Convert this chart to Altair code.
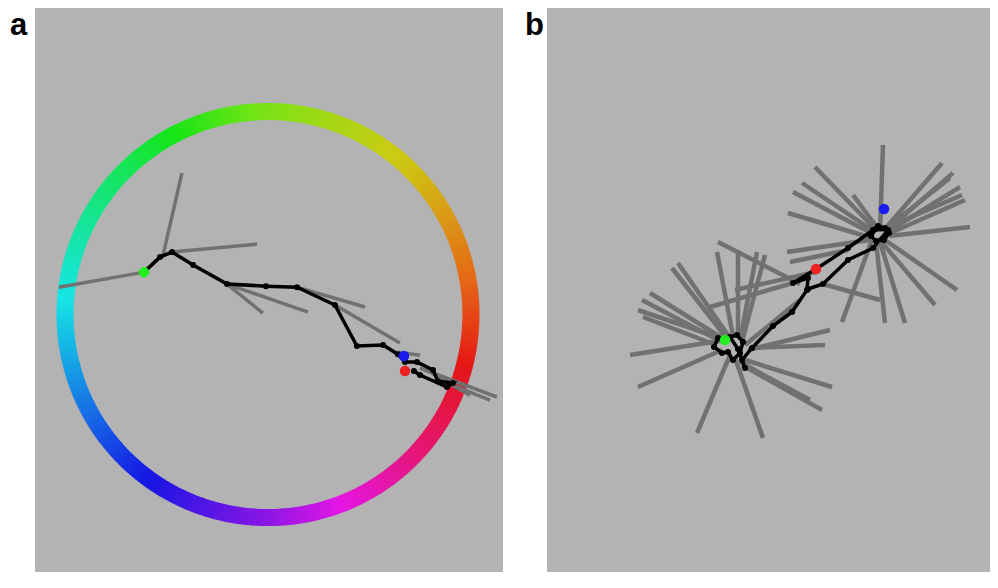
import colorsys
import math
import altair as alt
import pandas as pd

# ---------------- Panel a (units: ring radius = 1) ----------------
a_traj_x = [-0.611, -0.532, -0.473, -0.369, -0.202, -0.010, 0.143, 0.330, 0.438, 0.567,
            0.640, 0.675, 0.734, 0.813, 0.837, 0.911, 0.882, 0.749, 0.719]
a_traj_y = [0.209, 0.283, 0.308, 0.244, 0.150, 0.140, 0.135, 0.047, -0.155, -0.150,
            -0.195, -0.234, -0.234, -0.273, -0.328, -0.337, -0.357, -0.298, -0.278]

a_ray_x0 = [-0.611, -0.517, -0.473, -0.202, -0.202, 0.143, 0.330, 0.640, 0.749, 0.798, 0.773, 0.847]
a_ray_y0 = [0.209, 0.293, 0.308, 0.150, 0.150, 0.135, 0.047, -0.185, -0.264, -0.283, -0.273, -0.323]
a_ray_x1 = [-1.030, -0.424, -0.054, -0.025, 0.197, 0.478, 0.650, 0.749, 1.128, 0.995, 0.980, 1.094]
a_ray_y1 = [0.135, 0.697, 0.347, 0.007, 0.012, 0.037, -0.140, -0.200, -0.406, -0.397, -0.352, -0.421]

a_dot_x = [-0.611, 0.670, 0.675]
a_dot_y = [0.209, -0.204, -0.278]
dot_colors = ["#22ee22", "#1a1aee", "#ee2020"]

# ---------------- Panel b ----------------
b_traj_x = [1.78, 1.71, 1.67, 1.75, 1.81, 1.86, 1.93, 1.96, 1.90, 1.83, 1.91, 1.98, 1.95, 2.05,
            2.26, 2.45, 2.60, 2.61, 2.46, 2.69, 3.01, 3.26, 3.31, 3.38, 3.42, 3.37, 3.29, 3.24,
            3.29, 3.41, 3.26, 3.01, 2.76, 2.61]
b_traj_y = [2.41, 2.42, 2.33, 2.27, 2.28, 2.20, 2.27, 2.38, 2.45, 2.43, 2.31, 2.12, 2.20, 2.32,
            2.54, 2.68, 2.90, 3.02, 2.97, 3.11, 3.32, 3.50, 3.54, 3.52, 3.47, 3.40, 3.39, 3.44,
            3.51, 3.50, 3.32, 3.20, 2.96, 2.91]

b_ray_x0 = [1.78, 1.75, 1.83, 1.88, 1.98, 1.95, 1.93, 1.73, 1.71, 1.75, 1.69, 1.81, 1.83, 1.86,
            1.91, 1.93, 1.95, 2.01, 2.03, 1.98,
            3.33, 3.37, 3.39, 3.40, 3.41, 3.42, 3.38, 3.33, 3.29, 3.25, 3.27, 3.25, 3.26, 3.25,
            3.23, 3.29, 3.39, 3.38, 3.31,
            2.53, 2.46, 2.69, 3.01, 2.76]
b_ray_y0 = [2.40, 2.30, 2.25, 2.22, 2.20, 2.15, 2.18, 2.42, 2.40, 2.42, 2.35, 2.40, 2.42, 2.44,
            2.42, 2.40, 2.38, 2.30, 2.32, 2.35,
            3.48, 3.50, 3.49, 3.48, 3.46, 3.44, 3.40, 3.38, 3.38, 3.40, 3.52, 3.50, 3.46, 3.42,
            3.40, 3.54, 3.52, 3.51, 3.42,
            2.96, 2.97, 3.08, 3.30, 2.96]
b_ray_x1 = [0.83, 0.91, 1.50, 2.16, 2.85, 2.75, 2.63, 0.91, 0.95, 1.03, 0.96, 1.25, 1.31, 1.70,
            1.91, 2.10, 2.18, 2.83, 2.78, 2.53,
            3.36, 3.95, 4.06, 4.13, 4.18, 4.23, 4.10, 3.58, 3.38, 2.95, 2.68, 2.55, 2.46, 2.41,
            2.40, 3.06, 4.15, 4.03, 3.88,
            1.71, 1.63, 1.88, 2.43, 3.33]
b_ray_y1 = [2.25, 1.93, 1.47, 1.42, 1.93, 1.70, 1.80, 2.70, 2.80, 2.87, 2.63, 3.12, 3.17, 3.28,
            3.30, 3.28, 3.25, 2.50, 2.35, 2.80,
            4.35, 4.17, 4.07, 3.93, 3.80, 3.53, 2.90, 2.57, 2.57, 2.58, 4.13, 3.97, 3.88, 3.67,
            3.28, 3.85, 3.85, 4.02, 2.75,
            3.38, 2.73, 2.90, 3.18, 2.80]

b_dot_x = [1.78, 3.37, 2.69]
b_dot_y = [2.40, 3.71, 3.11]
b_dot_colors = ["#22ee22", "#1a1aee", "#ee2020"]

panel_labels = ["a", "b"]

# hue wheel anchors: ring angle (deg, counter-clockwise from east) -> hue (deg)
ring_angle_anchor = [0, 45, 90, 135, 180, 225, 270, 315, 360]
ring_hue_anchor = [15, 55, 90, 140, 185, 232, 275, 330, 375]

BG = "#b3b3b3"
RAY = "#717171"
W_A, W_B, H = 468, 443, 564


def hue_at(deg):
    for k in range(len(ring_angle_anchor) - 1):
        a0, a1 = ring_angle_anchor[k], ring_angle_anchor[k + 1]
        if a0 <= deg <= a1:
            h0, h1 = ring_hue_anchor[k], ring_hue_anchor[k + 1]
            return (h0 + (h1 - h0) * (deg - a0) / (a1 - a0)) % 360
    return deg % 360


ring_rows = []
for deg in range(360):
    t0 = math.radians(deg)
    t1 = math.radians(deg + 1.3)
    h = hue_at(deg)
    v = 0.9 - 0.1 * max(0.0, 1 - abs(h - 60) / 35.0)
    r, g, b = colorsys.hsv_to_rgb(h / 360.0, 0.9, v)
    ring_rows.append({
        "x": math.cos(t0), "y": math.sin(t0),
        "x2": math.cos(t1), "y2": math.sin(t1),
        "c": "#%02x%02x%02x" % (int(r * 255), int(g * 255), int(b * 255)),
    })
ring_df = pd.DataFrame(ring_rows)

xa = alt.Scale(domain=[-1.148, 1.158], nice=False, zero=False)
ya = alt.Scale(domain=[-1.268, 1.510], nice=False, zero=False)
xb = alt.Scale(domain=[0, 4.43], nice=False, zero=False)
yb = alt.Scale(domain=[0.08, 5.72], nice=False, zero=False)


def panel(traj_x, traj_y, rx0, ry0, rx1, ry1, dx, dy, dcol, xs, ys, width, label, ray_w, ring=False):
    traj = pd.DataFrame({"x": traj_x, "y": traj_y, "i": range(len(traj_x))})
    rays = pd.DataFrame({"x": rx0, "y": ry0, "x2": rx1, "y2": ry1})
    dots = pd.DataFrame({"x": dx, "y": dy, "c": dcol})
    layers = []
    if ring:
        layers.append(
            alt.Chart(ring_df).mark_rule(strokeWidth=17, strokeCap="butt", clip=True).encode(
                x=alt.X("x:Q", scale=xs, axis=None), y=alt.Y("y:Q", scale=ys, axis=None),
                x2="x2:Q", y2="y2:Q", color=alt.Color("c:N", scale=None))
        )
    layers.append(
        alt.Chart(rays).mark_rule(strokeWidth=ray_w, color=RAY, clip=True).encode(
            x=alt.X("x:Q", scale=xs, axis=None), y=alt.Y("y:Q", scale=ys, axis=None),
            x2="x2:Q", y2="y2:Q")
    )
    layers.append(
        alt.Chart(traj).mark_line(color="black", strokeWidth=3.5, clip=True).encode(
            x=alt.X("x:Q", scale=xs, axis=None), y=alt.Y("y:Q", scale=ys, axis=None),
            order="i:Q")
    )
    layers.append(
        alt.Chart(traj).mark_circle(color="black", size=36, opacity=1, clip=True).encode(
            x=alt.X("x:Q", scale=xs, axis=None), y=alt.Y("y:Q", scale=ys, axis=None))
    )
    layers.append(
        alt.Chart(dots).mark_circle(size=110, opacity=1, clip=True).encode(
            x=alt.X("x:Q", scale=xs, axis=None), y=alt.Y("y:Q", scale=ys, axis=None),
            color=alt.Color("c:N", scale=None))
    )
    layers.append(
        alt.Chart(pd.DataFrame({"t": [label]})).mark_text(
            font="Liberation Sans", fontWeight="bold", fontSize=31, align="left",
            baseline="alphabetic", color="black").encode(
            x=alt.value(-25 if label == "a" else -22), y=alt.value(27), text="t:N")
    )
    return alt.layer(*layers).properties(width=width, height=H)


pa = panel(a_traj_x, a_traj_y, a_ray_x0, a_ray_y0, a_ray_x1, a_ray_y1,
           a_dot_x, a_dot_y, dot_colors, xa, ya, W_A, panel_labels[0], 3.5, ring=True)
pb = panel(b_traj_x, b_traj_y, b_ray_x0, b_ray_y0, b_ray_x1, b_ray_y1,
           b_dot_x, b_dot_y, b_dot_colors, xb, yb, W_B, panel_labels[1], 4.5)

chart = alt.hconcat(pa, pb, spacing=22).properties(
    padding={"left": 2, "top": 0, "right": 0, "bottom": 0},
    background="white",
).configure_view(fill=BG, strokeWidth=0)

chart.save("out.html", embed_options={"renderer": "svg", "actions": False})
